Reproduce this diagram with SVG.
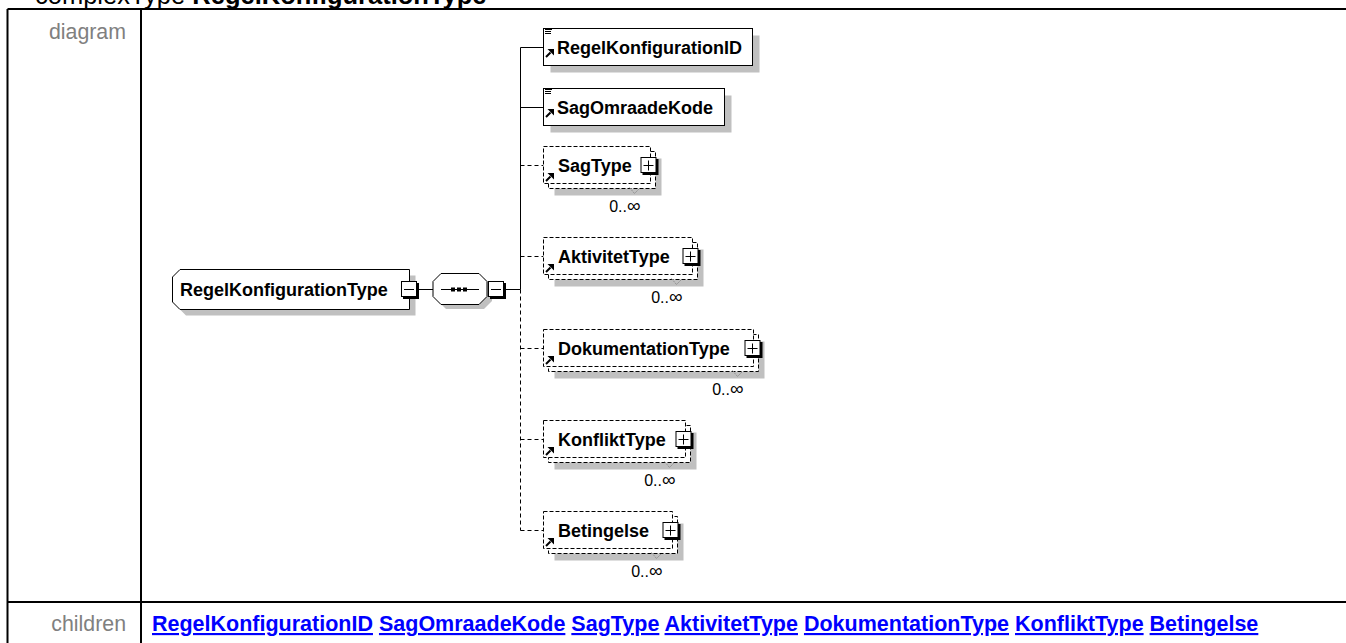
<svg xmlns="http://www.w3.org/2000/svg" xmlns:xlink="http://www.w3.org/1999/xlink" width="1346" height="643" viewBox="0 0 1346 643">
<style>
text{font-family:"Liberation Sans",Arial,sans-serif}
.lbl{font-weight:bold;font-size:18px;fill:#000}
.card{font-size:16px;fill:#000}
.inf{font-size:19px}
.box{fill:#fff;stroke:#000;stroke-width:1}
.dbox{fill:#fff;stroke:#000;stroke-width:1;stroke-dasharray:4,2}
.sh{fill:#c0c0c0}
.ln{stroke:#000;stroke-width:1;fill:none}
.dln{stroke:#000;stroke-width:1;fill:none;stroke-dasharray:4,3}
.vm{stroke:#909090;stroke-width:1;fill:none;stroke-dasharray:2,1}
.tbl{stroke:#000;stroke-width:2;fill:none}
.hdr{font-size:21.33px;fill:#808080}
.lnk{font-size:21.5px;font-weight:bold;fill:#0000ff;text-decoration:underline}
</style>
<defs>
<g id="ref"><path d="M1,8L5.5,3.5" stroke="#000" stroke-width="2"/><polygon points="2.5,0 9,0 9,6.5" fill="#000"/></g>
<g id="doc"><path d="M0,0.5H7M0,2.5H6M0,4.5H6" stroke="#000" stroke-width="1"/></g>
<g id="plus"><rect x="2" y="2" width="16" height="16" fill="#000"/><rect x="0.5" y="0.5" width="15" height="15" fill="#fff" stroke="#000"/><path d="M3,8.5H13M8,3.5V13.5" stroke="#000"/></g>
<g id="minus"><rect x="2" y="2" width="16" height="16" fill="#000"/><rect x="0.5" y="0.5" width="15" height="15" fill="#fff" stroke="#000"/><path d="M3,8.5H13" stroke="#000"/></g>
</defs>
<rect width="1346" height="643" fill="#fff"/>
<g id="title"><text x="35" y="4" style="font-size:25.5px;fill:#000">complexType <tspan font-weight="bold">RegelKonfigurationType</tspan></text></g>
<g id="table">
<path class="tbl" d="M7.5,9H1346M7.5,9V643M141,9V643M7.5,602H1346"/>
<text class="hdr" x="126" y="39" text-anchor="end">diagram</text>
<text class="hdr" x="126" y="631" text-anchor="end">children</text>
<text x="152" y="631" style="font-size:21.5px;font-weight:bold;fill:#0000ff"><tspan class="lnk">RegelKonfigurationID</tspan> <tspan class="lnk">SagOmraadeKode</tspan> <tspan class="lnk">SagType</tspan> <tspan class="lnk">AktivitetType</tspan> <tspan class="lnk">DokumentationType</tspan> <tspan class="lnk">KonfliktType</tspan> <tspan class="lnk">Betingelse</tspan></text>
</g>
<g id="connectors">
<path class="ln" d="M418,289.5H433M505,289.5H520.5M520.5,47.5V289.5M520.5,47.5H543.5M520.5,107.5H543.5"/>
<path class="dln" d="M520.5,289.5V530.5M520.5,165.5H543.5M520.5,256.5H543.5M520.5,348.5H543.5M520.5,439.5H543.5M520.5,530.5H543.5"/>
</g>
<g id="root">
<polygon class="sh" points="186,275.5 415.5,275.5 415.5,315.5 186,315.5 178.5,308 178.5,283"/>
<polygon class="box" points="180,269.5 409.5,269.5 409.5,309.5 180,309.5 172.5,302 172.5,277"/>
<text class="lbl" x="180" y="295.5">RegelKonfigurationType</text>
<use xlink:href="#minus" x="401" y="281"/>
</g>
<g id="sequence">
<polygon class="sh" points="446,278 484,278 492,286 492,301 484,309 446,309 438,301 438,286"/>
<polygon class="box" points="441,273.5 479,273.5 487,281.5 487,296.5 479,304.5 441,304.5 433,296.5 433,281.5"/>
<path class="ln" d="M441,289.5H479"/>
<rect x="451" y="287.5" width="4" height="4" fill="#000"/>
<rect x="457" y="287.5" width="4" height="4" fill="#000"/>
<rect x="463" y="287.5" width="4" height="4" fill="#000"/>
<use xlink:href="#minus" x="488" y="281"/>
</g>
<g id="RegelKonfigurationID">
<rect class="sh" x="550.5" y="35.5" width="209" height="37"/>
<rect class="box" x="543.5" y="28.5" width="209" height="37"/>
<use xlink:href="#doc" x="545" y="29"/>
<use xlink:href="#ref" x="545" y="49"/>
<text class="lbl" x="557" y="54">RegelKonfigurationID</text>
</g>
<g id="SagOmraadeKode">
<rect class="sh" x="550.5" y="95.5" width="181" height="37"/>
<rect class="box" x="543.5" y="88.5" width="181" height="37"/>
<use xlink:href="#doc" x="545" y="89"/>
<use xlink:href="#ref" x="545" y="109"/>
<text class="lbl" x="557" y="114">SagOmraadeKode</text>
</g>
<g id="SagType">
<rect class="sh" x="554.5" y="158.5" width="107" height="37"/>
<rect class="dbox" x="548.5" y="151.5" width="107" height="37"/>
<rect class="dbox" x="543.5" y="146.5" width="107" height="37"/>
<polyline class="vm" points="629.5,187.5 634.5,193.5 639.5,188.5"/>
<use xlink:href="#ref" x="545" y="173"/>
<text class="lbl" x="558" y="172">SagType</text>
<use xlink:href="#plus" x="640.5" y="157"/>
<text class="card" x="640.5" y="211.5" text-anchor="end">0..<tspan class="inf">∞</tspan></text>
</g>
<g id="AktivitetType">
<rect class="sh" x="554.5" y="249.5" width="149" height="37"/>
<rect class="dbox" x="548.5" y="242.5" width="149" height="37"/>
<rect class="dbox" x="543.5" y="237.5" width="149" height="37"/>
<polyline class="vm" points="671.5,278.5 676.5,284.5 681.5,279.5"/>
<use xlink:href="#ref" x="545" y="264"/>
<text class="lbl" x="558" y="263">AktivitetType</text>
<use xlink:href="#plus" x="682.5" y="248"/>
<text class="card" x="682.5" y="302.5" text-anchor="end">0..<tspan class="inf">∞</tspan></text>
</g>
<g id="DokumentationType">
<rect class="sh" x="554.5" y="341.5" width="210" height="37"/>
<rect class="dbox" x="548.5" y="334.5" width="210" height="37"/>
<rect class="dbox" x="543.5" y="329.5" width="210" height="37"/>
<polyline class="vm" points="732.5,370.5 737.5,376.5 742.5,371.5"/>
<use xlink:href="#ref" x="545" y="356"/>
<text class="lbl" x="558" y="355">DokumentationType</text>
<use xlink:href="#plus" x="744.5" y="340"/>
<text class="card" x="743.5" y="394.5" text-anchor="end">0..<tspan class="inf">∞</tspan></text>
</g>
<g id="KonfliktType">
<rect class="sh" x="554.5" y="432.5" width="142" height="37"/>
<rect class="dbox" x="548.5" y="425.5" width="142" height="37"/>
<rect class="dbox" x="543.5" y="420.5" width="142" height="37"/>
<polyline class="vm" points="664.5,461.5 669.5,467.5 674.5,462.5"/>
<use xlink:href="#ref" x="545" y="447"/>
<text class="lbl" x="558" y="446">KonfliktType</text>
<use xlink:href="#plus" x="675.5" y="431"/>
<text class="card" x="675.5" y="485.5" text-anchor="end">0..<tspan class="inf">∞</tspan></text>
</g>
<g id="Betingelse">
<rect class="sh" x="554.5" y="523.5" width="129" height="37"/>
<rect class="dbox" x="548.5" y="516.5" width="129" height="37"/>
<rect class="dbox" x="543.5" y="511.5" width="129" height="37"/>
<polyline class="vm" points="651.5,552.5 656.5,558.5 661.5,553.5"/>
<use xlink:href="#ref" x="545" y="538"/>
<text class="lbl" x="558" y="537">Betingelse</text>
<use xlink:href="#plus" x="662.5" y="522"/>
<text class="card" x="662.5" y="576.5" text-anchor="end">0..<tspan class="inf">∞</tspan></text>
</g>
</svg>
